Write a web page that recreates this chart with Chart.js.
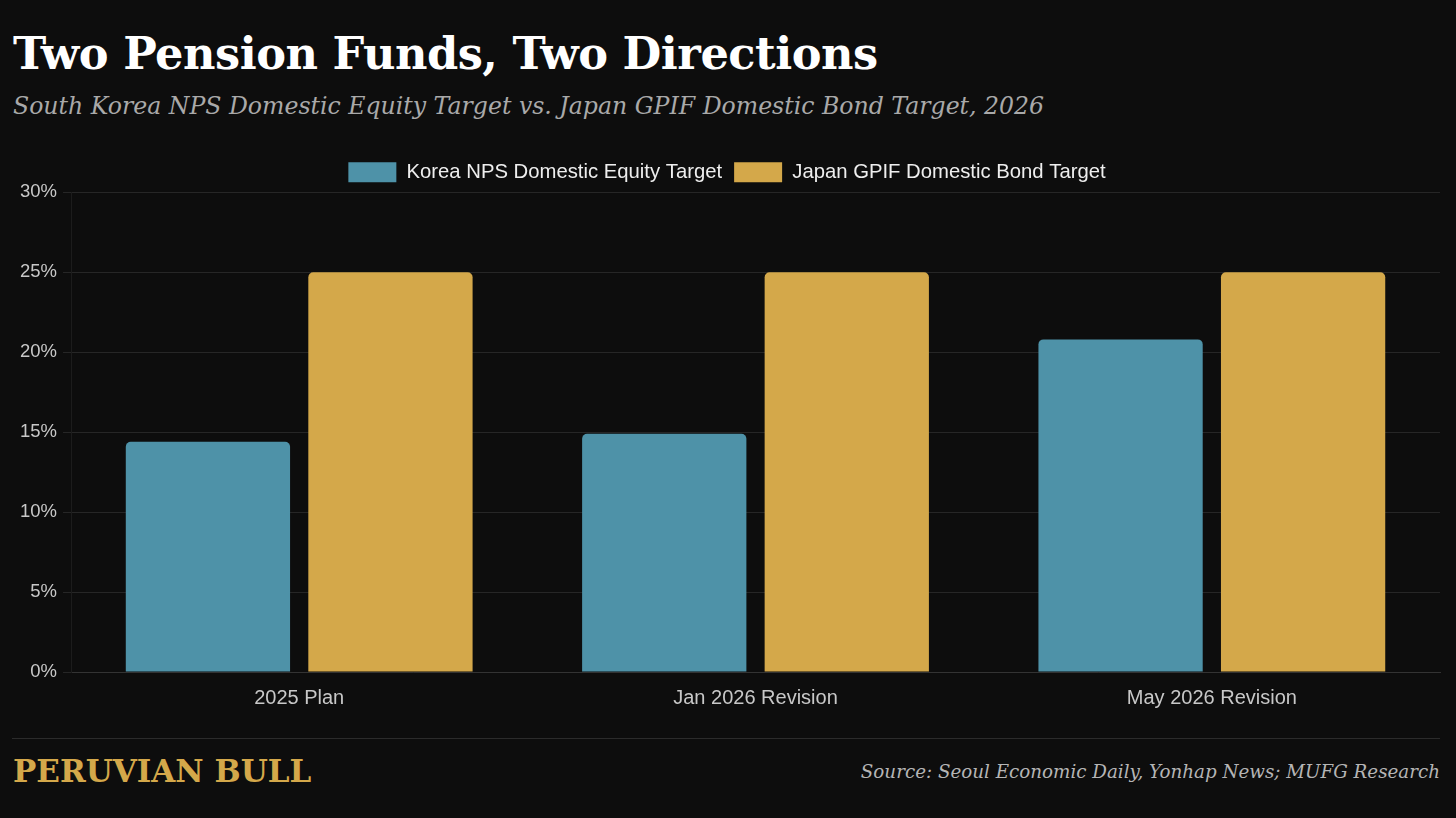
<!DOCTYPE html>
<html>
<head>
<meta charset="utf-8">
<script src="https://cdn.jsdelivr.net/npm/chart.js@4.4.1/dist/chart.umd.min.js"></script>
<style>
  html, body { margin: 0; padding: 0; background: #0d0d0d; }
  body { width: 1456px; height: 818px; position: relative; overflow: hidden; }
  .title {
    position: absolute; left: 13px; top: 27px;
    font-family: "DejaVu Serif", serif; font-weight: bold;
    font-size: 44.7px; color: #ffffff; letter-spacing: -0.5px;
  }
  .subtitle {
    position: absolute; left: 13px; top: 92px;
    font-family: "DejaVu Serif", serif; font-style: italic;
    font-size: 23.6px; color: #a9a9a9;
  }
  .chart-wrap { position: absolute; left: 0; top: 150px; width: 1456px; height: 574px; }
  .footer-line { position: absolute; left: 12px; top: 738px; width: 1428px; height: 1px; background: #2b2b2b; }
  .brand {
    position: absolute; left: 13px; top: 753px;
    font-family: "DejaVu Serif", serif; font-weight: bold;
    font-size: 31px; color: #d4a84a;
  }
  .source {
    position: absolute; right: 16px; top: 761px;
    font-family: "DejaVu Serif", serif; font-style: italic;
    font-size: 18.3px; color: #b5b5b5;
  }
</style>
</head>
<body>
<div class="title">Two Pension Funds, Two Directions</div>
<div class="subtitle">South Korea NPS Domestic Equity Target vs. Japan GPIF Domestic Bond Target, 2026</div>
<div class="chart-wrap"><canvas id="chart"></canvas></div>
<div class="footer-line"></div>
<div class="brand">PERUVIAN BULL</div>
<div class="source">Source: Seoul Economic Daily, Yonhap News; MUFG Research</div>

<script>
const categories = ["2025 Plan", "Jan 2026 Revision", "May 2026 Revision"];
const koreaEquity = [14.4, 14.9, 20.8];
const japanBond = [25, 25, 25];
const yTicks = [0, 5, 10, 15, 20, 25, 30];

const gridColor = "#262626";

new Chart(document.getElementById("chart"), {
    type: "bar",
    data: {
        labels: categories,
        datasets: [
            {
                label: "Korea NPS Domestic Equity Target",
                data: koreaEquity,
                backgroundColor: "#4e92a8",
                borderWidth: 0,
                borderRadius: 5,
                borderSkipped: "bottom"
            },
            {
                label: "Japan GPIF Domestic Bond Target",
                data: japanBond,
                backgroundColor: "#d4a84a",
                borderWidth: 0,
                borderRadius: 5,
                borderSkipped: "bottom"
            }
        ]
    },
    options: {
        responsive: true,
        maintainAspectRatio: false,
        animation: false,
        layout: { padding: { left: 14, right: 16, top: 0, bottom: 8 } },
        plugins: {
            legend: {
                position: "top",
                labels: {
                    color: "#eeeeee",
                    boxWidth: 48,
                    boxHeight: 20,
                    padding: 12,
                    font: { family: "Liberation Sans", size: 20.3 }
                }
            },
            tooltip: { enabled: false }
        },
        scales: {
            x: {
                grid: { display: false },
                border: { color: "#333333" },
                ticks: {
                    color: "#c8c8c8",
                    padding: 6,
                    font: { family: "Liberation Sans", size: 20 }
                }
            },
            y: {
                min: 0,
                max: 30,
                afterBuildTicks: axis => {
                    axis.ticks = yTicks.map(v => ({ value: v }));
                },
                grid: { color: gridColor, tickLength: 8 },
                border: { color: "#1c1c1c" },
                ticks: {
                    color: "#c8c8c8",
                    padding: 6,
                    font: { family: "Liberation Sans", size: 18.5 },
                    callback: v => v + "%"
                }
            }
        }
    }
});
</script>
</body>
</html>
